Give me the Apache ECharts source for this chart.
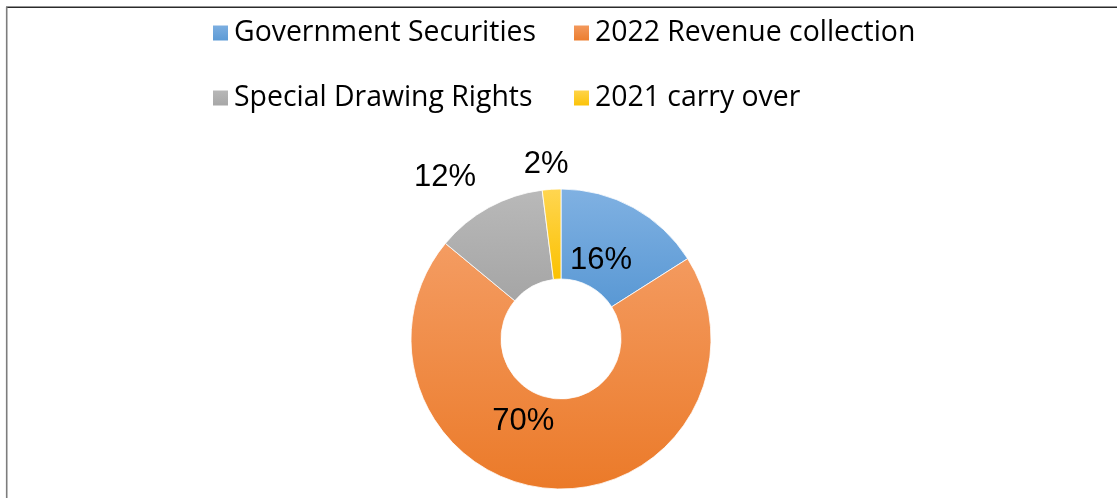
<!DOCTYPE html>
<html>
<head>
<meta charset="utf-8">
<script src="https://cdn.jsdelivr.net/npm/echarts@6/dist/echarts.min.js"></script>
<style>
  html, body { margin: 0; padding: 0; background: #fff; }
  #chart { width: 1117px; height: 498px; }
</style>
</head>
<body>
<div id="chart"></div>
<script>
// Funding sources, share of total (%)
const categories = ['Government Securities', '2022 Revenue collection', 'Special Drawing Rights', '2021 carry over'];
const shares = [16, 70, 12, 2];

// Slice fills: lighter at the top, fuller tone at the bottom
const colorTop = ['#80B1E2', '#F49C62', '#B9B9B9', '#FFD651'];
const colorBottom = ['#5998D4', '#EB7A29', '#A5A5A5', '#FBC100'];

const chart = echarts.init(document.getElementById('chart'), null, { renderer: 'canvas' });

const fill = i => new echarts.graphic.LinearGradient(0, 0, 0, 1, [
  { offset: 0, color: colorTop[i] },
  { offset: 1, color: colorBottom[i] }
]);

// Nudge of each percentage label away from the mid-ring anchor
const labelNudge = [[-12, 16], [-31, -25], [-64, -67], [-8, -67]];

const legendText = {
  fontFamily: 'Open Sans',
  fontSize: 28.4,
  color: '#000',
  lineHeight: 16
};

const legendBase = {
  orient: 'vertical',
  top: 19,
  padding: 0,
  itemWidth: 17, itemHeight: 17, itemGap: 37,
  icon: 'rect',
  selectedMode: false,
  textStyle: legendText
};

chart.setOption({
  animation: false,
  backgroundColor: '#fff',
  legend: [
    Object.assign({ data: [categories[0], categories[2]], left: 211 }, legendBase),
    Object.assign({ data: [categories[1], categories[3]], left: 572 }, legendBase)
  ],
  graphic: [
    { type: 'line', shape: { x1: 6, y1: 7.2, x2: 1117, y2: 7.2 }, style: { stroke: '#2b2b2b', lineWidth: 1.6 }, silent: true },
    { type: 'line', shape: { x1: 6.7, y1: 7, x2: 6.7, y2: 498 }, style: { stroke: '#7d7d7d', lineWidth: 1.6 }, silent: true }
  ],
  series: [{
    type: 'pie',
    center: [561, 339],
    radius: [60, 150],
    startAngle: 90,
    clockwise: true,
    avoidLabelOverlap: false,
    silent: true,
    itemStyle: { borderColor: '#fff', borderWidth: 0.8 },
    label: {
      show: true,
      position: 'inside',
      fontFamily: 'Liberation Sans',
      fontSize: 31,
      color: '#000',
      formatter: p => p.value + '%'
    },
    labelLine: { show: false },
    labelLayout: p => ({ dx: labelNudge[p.dataIndex][0], dy: labelNudge[p.dataIndex][1] }),
    emphasis: { disabled: true },
    data: categories.map((name, i) => ({
      name,
      value: shares[i],
      itemStyle: { color: fill(i) }
    }))
  }]
});
</script>
</body>
</html>
